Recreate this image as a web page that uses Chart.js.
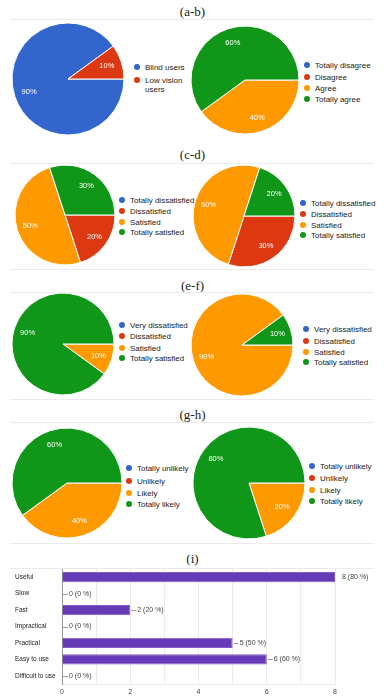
<!DOCTYPE html>
<html>
<head>
<meta charset="utf-8">
<script src="https://cdn.jsdelivr.net/npm/chart.js@4.4.0/dist/chart.umd.min.js"></script>
<style>
  body { margin: 0; background: #fff; }
  #page { position: relative; width: 385px; height: 700px; overflow: hidden; font-family: "Liberation Sans", Arial, sans-serif; }
  .title { position: absolute; left: 0; width: 385px; text-align: center; font: 13px/14px "Liberation Serif", serif; color: #222; }
  .rule { position: absolute; left: 10px; width: 364px; height: 1px; background: #ebebeb; }
  .pie, #bars { position: absolute; }
  .row { position: absolute; font-size: 8px; line-height: 9px; color: #222; white-space: nowrap; }
  .row .dot { position: absolute; left: 0; top: 1px; width: 6px; height: 6px; border-radius: 50%; }
  .row .txt { position: absolute; left: 11px; top: 0; }
</style>
</head>
<body>
<div id="page"></div>
<script>
window.addEventListener("DOMContentLoaded", () => {
  const pieColors = ["#3366cc", "#dc3912", "#ff9900", "#109618"];

  // (a-b)
  const userLabels = ["Blind users", "Low vision users"];
  const userShares = [90, 10];
  const agreeLabels = ["Totally disagree", "Disagree", "Agree", "Totally agree"];
  const agreeShares = [0, 0, 40, 60];
  // (c-d)
  const satisfiedLabels = ["Totally dissatisfied", "Dissatisfied", "Satisfied", "Totally satisfied"];
  const satisfiedC = [0, 20, 50, 30];
  const satisfiedD = [0, 30, 50, 20];
  // (e-f)
  const veryLabels = ["Very dissatisfied", "Dissatisfied", "Satisfied", "Totally satisfied"];
  const satisfiedE = [0, 0, 10, 90];
  const satisfiedF = [0, 0, 90, 10];
  // (g-h)
  const likelyLabels = ["Totally unlikely", "Unlikely", "Likely", "Totally likely"];
  const likelyG = [0, 0, 40, 60];
  const likelyH = [0, 0, 20, 80];
  // (i)
  const featureLabels = ["Useful", "Slow", "Fast", "Impractical", "Practical", "Easy to use", "Difficult to use"];
  const featureCounts = [8, 0, 2, 0, 5, 6, 0];
  const featurePercents = [80, 0, 20, 0, 50, 60, 0];
  const xTicks = [0, 2, 4, 6, 8];

  const sectionTitles = ["(a-b)", "(c-d)", "(e-f)", "(g-h)", "(i)"];

  const page = document.getElementById("page");
  const font = "'Liberation Sans', Arial, sans-serif";
  Chart.defaults.font.family = font;

  // layout
  const titleY = [12, 155, 286, 415, 559];
  const ruleY = [19, 163, 269, 292, 399, 422, 543, 568];

  sectionTitles.forEach((t, i) => {
    const d = document.createElement("div");
    d.className = "title";
    d.style.top = (titleY[i] - 7) + "px";
    d.textContent = t;
    page.appendChild(d);
  });
  ruleY.forEach((y) => {
    const d = document.createElement("div");
    d.className = "rule";
    d.style.top = y + "px";
    page.appendChild(d);
  });

  const pies = [
    { labels: userLabels, values: userShares, cx: 68, cy: 79, r: 56, lx: 137, rows: [67, 80], wrap: 48 },
    { labels: agreeLabels, values: agreeShares, cx: 245, cy: 80, r: 54, lx: 307, rows: [65, 77, 88, 99] },
    { labels: satisfiedLabels, values: satisfiedC, cx: 65, cy: 215, r: 50, lx: 122, rows: [200, 211, 222, 232] },
    { labels: satisfiedLabels, values: satisfiedD, cx: 244, cy: 216, r: 51, lx: 303, rows: [203, 214, 225, 235] },
    { labels: veryLabels, values: satisfiedE, cx: 63, cy: 344, r: 51, lx: 122, rows: [325, 336, 348, 358] },
    { labels: veryLabels, values: satisfiedF, cx: 242, cy: 345, r: 51, lx: 306, rows: [329, 341, 352, 362] },
    { labels: likelyLabels, values: likelyG, cx: 67, cy: 483, r: 55, lx: 129, rows: [468, 481, 493, 504] },
    { labels: likelyLabels, values: likelyH, cx: 249, cy: 483, r: 56, lx: 312, rows: [466, 478, 490, 501] }
  ];

  const sliceLabels = {
    id: "sliceLabels",
    afterDatasetsDraw(chart) {
      const { ctx } = chart;
      const values = chart.data.datasets[0].data;
      ctx.save();
      ctx.fillStyle = "#fff";
      ctx.font = "7.5px " + font;
      ctx.textAlign = "center";
      ctx.textBaseline = "middle";
      chart.getDatasetMeta(0).data.forEach((arc, i) => {
        if (!values[i]) return;
        const p = arc.getProps(["x", "y", "startAngle", "endAngle", "outerRadius"], true);
        const mid = (p.startAngle + p.endAngle) / 2;
        const rr = p.outerRadius * 0.73;
        ctx.fillText(values[i] + "%", p.x + Math.cos(mid) * rr, p.y + Math.sin(mid) * rr);
      });
      ctx.restore();
    }
  };

  pies.forEach((p) => {
    const size = 2 * p.r + 4;
    const canvas = document.createElement("canvas");
    canvas.className = "pie";
    canvas.width = size;
    canvas.height = size;
    canvas.style.left = (p.cx - size / 2) + "px";
    canvas.style.top = (p.cy - size / 2) + "px";
    page.appendChild(canvas);

    new Chart(canvas, {
      type: "pie",
      data: {
        labels: p.labels,
        datasets: [{
          data: p.values,
          backgroundColor: pieColors.slice(0, p.values.length),
          borderColor: "#fff",
          borderWidth: 1
        }]
      },
      options: {
        responsive: false,
        animation: false,
        rotation: 90,
        radius: p.r,
        layout: { padding: 0 },
        plugins: { legend: { display: false }, tooltip: { enabled: false } }
      },
      plugins: [sliceLabels]
    });

    p.labels.forEach((label, i) => {
      const row = document.createElement("div");
      row.className = "row";
      row.style.left = (p.lx - 3) + "px";
      row.style.top = (p.rows[i] - 4.5) + "px";
      const dot = document.createElement("span");
      dot.className = "dot";
      dot.style.background = pieColors[i];
      const txt = document.createElement("span");
      txt.className = "txt";
      txt.textContent = label;
      if (p.wrap) {
        txt.style.whiteSpace = "normal";
        txt.style.width = p.wrap + "px";
      }
      row.appendChild(dot);
      row.appendChild(txt);
      page.appendChild(row);
    });
  });

  // bar chart (i)
  const barLabels = {
    id: "barLabels",
    afterDatasetsDraw(chart) {
      const { ctx } = chart;
      const xMax = chart.scales.x.max;
      ctx.save();
      ctx.font = "7px " + font;
      ctx.fillStyle = "#444";
      ctx.strokeStyle = "#999";
      ctx.lineWidth = 1;
      ctx.textAlign = "left";
      ctx.textBaseline = "middle";
      chart.getDatasetMeta(0).data.forEach((bar, i) => {
        const y = Math.round(bar.y) + 0.5;
        if (featureCounts[i] < xMax) {
          ctx.beginPath();
          ctx.moveTo(bar.x + 1, y);
          ctx.lineTo(bar.x + 6, y);
          ctx.stroke();
        }
        ctx.fillText(featureCounts[i] + " (" + featurePercents[i] + " %)", bar.x + 7, bar.y);
      });
      ctx.restore();
    }
  };

  const barCanvas = document.createElement("canvas");
  barCanvas.id = "bars";
  barCanvas.width = 385;
  barCanvas.height = 140;
  barCanvas.style.left = "0px";
  barCanvas.style.top = "560px";
  page.appendChild(barCanvas);

  new Chart(barCanvas, {
    type: "bar",
    data: {
      labels: featureLabels,
      datasets: [{
        data: featureCounts,
        backgroundColor: "#673ab7",
        borderColor: "#7e5cc6",
        borderWidth: 1,
        barPercentage: 0.62,
        categoryPercentage: 1
      }]
    },
    options: {
      indexAxis: "y",
      responsive: false,
      animation: false,
      layout: { padding: { top: 9, right: 50, bottom: 0, left: 15 } },
      plugins: { legend: { display: false }, tooltip: { enabled: false } },
      scales: {
        x: {
          min: 0,
          max: 8,
          grid: { color: "#ebebeb", drawTicks: false },
          border: { color: "#ebebeb" },
          ticks: {
            stepSize: 1,
            autoSkip: false,
            maxRotation: 0,
            padding: 4,
            color: "#444",
            font: { size: 7 },
            callback: (v) => (xTicks.includes(v) ? v : "")
          },
          afterFit: (s) => { s.height = 16; }
        },
        y: {
          grid: { display: false, drawTicks: false },
          border: { color: "#999" },
          ticks: { crossAlign: "far", autoSkip: false, color: "#222", font: { size: 6.5 } },
          afterFit: (s) => { s.width = 47; }
        }
      }
    },
    plugins: [barLabels]
  });
});
</script>
</body>
</html>
